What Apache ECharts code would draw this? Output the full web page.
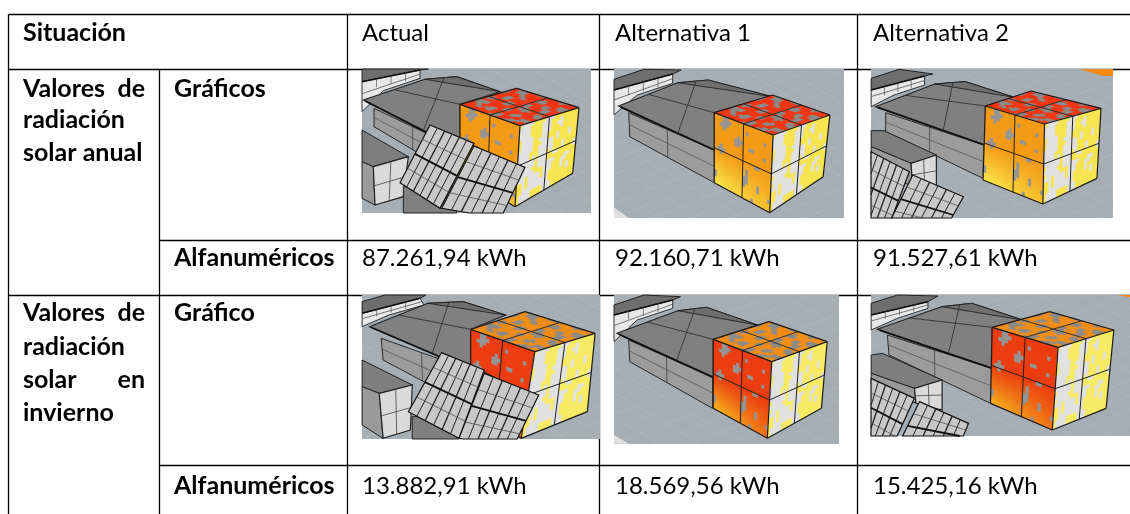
<!DOCTYPE html>
<html>
<head>
<meta charset="utf-8">
<style>html,body{margin:0;padding:0;background:#fff}#c{width:1130px;height:514px}</style>
<script src="https://cdn.jsdelivr.net/npm/echarts@6/dist/echarts.min.js"></script>
</head>
<body>
<div id="c"></div>
<script>
// ---- table content ----
const headerLabel = "Situación";
const scenarios = ["Actual", "Alternativa 1", "Alternativa 2"];
const annualHead = ["Valores de", "radiación", "solar anual"];
const winterHead = ["Valores de", "radiación", "solar en", "invierno"];
const annualRows = ["Gráficos", "Alfanuméricos"];
const winterRows = ["Gráfico", "Alfanuméricos"];
const annualKwh = ["87.261,94 kWh", "92.160,71 kWh", "91.527,61 kWh"];
const winterKwh = ["13.882,91 kWh", "18.569,56 kWh", "15.425,16 kWh"];

// ---- layout ----
const FONT = 'Lato, "Open Sans", sans-serif';
const FS = 24, FSB = 25;
const VX = [8.5, 159.5, 347.5, 599.5, 857.5];
const HY = [14.5, 69.5, 240.5, 295.5, 465.5];
const W = 1130, H = 514;
const TX = [362, 615, 873];

// ---- blotch textures for the rendered cubes ----
const patTop = [
"..##....###...##..#.",".####..##.....###...","..###......##...#..#","#...##...####....##.",
"##...##...###..#.###",".#....##.....###..##","...##..##..#..##....","..####...###....##..",
"...##.....##...####.","##....##....#...##..","###..####..###......",".##...##...####..##.",
"....#.....#..##.####",".##.##..###.......##","####.....###..##....",".##...##....####..#.",
"...#.####....##..###","..###.##..##....#.##","#..#.....####..##...","##....##..##..####.."];
const patSide = [
".....#........#.....","..#.##....#.........","..###......##....#..","...#........#...##..",
"........#.........#.",".##....###...#......","..#.....#...##...#..","......#......#..##..",
"..#..##...#.......#.",".###......##..#.....","..#...#.......##....","......##..#....#....",
"...#.......##......#","..##...#....#...#.##","......##..#.....#...",".#.......###..#.....",
"##...#.....#..##....",".....##.........#..#","...#......#..#....##","..##...#..#.##......"];
const patRight = [
"###.##..####..#.#...","####.#..###..##...#.","####..#.####.###.##.","###.##..##..#.##....",
"####.##.###...#..##.","#.###..####.##..###.","##.###.##.#.###..#..","####.#..####..#.##..",
"###.#.###.###..#...#","##.##..###.##.###.#.",".##.###.##..#.##..##","##.##.####.###...##.",
"#.###..#.##.#..###..","###.##.##.###.#.##.#",".##.###.#.##..###...","##.#.##.####.##.#.#.",
".#.####.##.#.#..###.","##.##.##.###..##.#..",".###.#.##.##.##..#.#","#.#.##..#.###.#.#..."];

const out = [];

function clipPoly(pts, r) {
  const edges = [
    p => p[0] >= r[0], p => p[0] <= r[2], p => p[1] >= r[1], p => p[1] <= r[3]
  ];
  const cross = [
    (a, b) => { const t = (r[0]-a[0])/(b[0]-a[0]); return [r[0], a[1]+t*(b[1]-a[1])]; },
    (a, b) => { const t = (r[2]-a[0])/(b[0]-a[0]); return [r[2], a[1]+t*(b[1]-a[1])]; },
    (a, b) => { const t = (r[1]-a[1])/(b[1]-a[1]); return [a[0]+t*(b[0]-a[0]), r[1]]; },
    (a, b) => { const t = (r[3]-a[1])/(b[1]-a[1]); return [a[0]+t*(b[0]-a[0]), r[3]]; }
  ];
  let res = pts;
  for (let e = 0; e < 4; e++) {
    const inp = res; res = [];
    for (let i = 0; i < inp.length; i++) {
      const a = inp[i], b = inp[(i+1) % inp.length];
      const ai = edges[e](a), bi = edges[e](b);
      if (ai) res.push(a);
      if (ai !== bi) res.push(cross[e](a, b));
    }
    if (!res.length) return res;
  }
  return res;
}
function clipSeg(a, b, r) {
  let t0 = 0, t1 = 1;
  const dx = b[0]-a[0], dy = b[1]-a[1];
  const ck = [[-dx, a[0]-r[0]], [dx, r[2]-a[0]], [-dy, a[1]-r[1]], [dy, r[3]-a[1]]];
  for (const [p, q] of ck) {
    if (p === 0) { if (q < 0) return null; continue; }
    const t = q / p;
    if (p < 0) { if (t > t1) return null; if (t > t0) t0 = t; }
    else { if (t < t0) return null; if (t < t1) t1 = t; }
  }
  return [[a[0]+t0*dx, a[1]+t0*dy], [a[0]+t1*dx, a[1]+t1*dy]];
}
function bil(q, u, v) {
  const tx = q[0][0]+(q[1][0]-q[0][0])*u, ty = q[0][1]+(q[1][1]-q[0][1])*u;
  const bx = q[3][0]+(q[2][0]-q[3][0])*u, by = q[3][1]+(q[2][1]-q[3][1])*u;
  return [tx+(bx-tx)*v, ty+(by-ty)*v];
}
function mix(c1, c2, t) {
  t = Math.max(0, Math.min(1, t));
  const r = [0,1,2].map(i => Math.round(c1[i]+(c2[i]-c1[i])*t));
  return "rgb("+r.join(",")+")";
}
const mid = (a,b,t) => [a[0]+(b[0]-a[0])*t, a[1]+(b[1]-a[1])*t];
// a texture cell is set when enough of its 3x3 neighbourhood is set: merges specks into blobs
function blotched(pat, j, i, need) {
  const n = pat.length;
  let k = 0;
  for (let b = -1; b <= 1; b++) for (let a = -1; a <= 1; a++)
    if (pat[(j+b+n)%n][(i+a+n)%n] === "#") k++;
  return k >= need;
}

function drawScene(s) {
  const r = s.rect;
  const P = p => [s.ox + p[0]/s.sx, s.oy + p[1]/s.sy];
  const poly = (pts, fill, stroke, lw) => {
    const c = clipPoly(pts.map(P), r);
    if (c.length < 3) return;
    out.push({type:"polygon", shape:{points:c}, silent:true,
      style:{fill:fill, stroke:stroke||null, lineWidth:lw||0}});
  };
  const rawPoly = (pts, fill) => {
    const c = clipPoly(pts, r);
    if (c.length < 3) return;
    out.push({type:"polygon", shape:{points:c}, silent:true, style:{fill:fill, stroke:fill, lineWidth:0.5}});
  };
  const seg = (a, b, col, lw) => {
    const c = clipSeg(P(a), P(b), r);
    if (!c) return;
    out.push({type:"line", silent:true, shape:{x1:c[0][0], y1:c[0][1], x2:c[1][0], y2:c[1][1]},
      style:{stroke:col, lineWidth:lw}});
  };

  // ground
  out.push({type:"rect", silent:true, shape:{x:r[0], y:r[1], width:r[2]-r[0], height:r[3]-r[1]}, style:{fill:"#A5ADB5"}});
  const h = r[3]-r[1];
  for (let i = -6; i < 14; i++) {
    const c = clipSeg([r[0]+i*38, r[3]], [r[0]+i*38+h*2.6, r[1]], r);
    if (c) out.push({type:"line", silent:true, shape:{x1:c[0][0],y1:c[0][1],x2:c[1][0],y2:c[1][1]}, style:{stroke:"#B2B9C0", lineWidth:0.6}});
    const f = clipSeg([r[0]+i*42-40, r[1]], [r[0]+i*42-40+h*1.7, r[3]], r);
    if (f) out.push({type:"line", silent:true, shape:{x1:f[0][0],y1:f[0][1],x2:f[1][0],y2:f[1][1]}, style:{stroke:"#B2B9C0", lineWidth:0.6}});
  }

  // far building
  poly(s.farTop, "#6E6E6E", "#222", 1);
  poly(s.far, "#E8E8E8", "#333", 1);
  const f0 = s.far;
  seg(f0[0], f0[1], "#111", 1.6);
  seg(mid(f0[0],f0[4],.4), mid(f0[1],f0[2],.5), "#555", 0.8);
  for (let t = 0.25; t < 1; t += 0.25) {
    const a = mid(f0[0], f0[1], t);
    seg(a, [a[0], a[1]+(f0[2][1]-f0[1][1])], "#555", 0.7);
  }

  // wall and roof of the long building
  poly(s.wall, "#9C9C9C", "#2a2a2a", 1);
  const wl = s.wall, wn = wl.length;
  seg(mid(wl[0],wl[1],.5), mid(wl[wn-1],wl[wn-2],.5), "#555", 0.8);
  seg(mid(wl[0],wl[wn-1],.45), mid(wl[1],wl[wn-2],.45), "#444", 0.8);
  const rf = s.roof;
  poly(rf, "#808080", "#222", 1.1);
  poly([rf[1], rf[2], rf[3], mid(rf[1], rf[3], .9)], "#6F6F6F", "#222", 0.9);
  seg(mid(rf[0],rf[5],.02), rf[5], "#111", 1.8);
  seg(mid(rf[0],rf[1],.5), rf[4], "#333", 0.9);
  seg(mid(rf[0],rf[5],.62), mid(rf[1],rf[2],.6), "#333", 0.9);

  // small box
  if (s.box) {
    poly(s.box.top, "#7E7E7E", "#222", 1);
    if (s.box.left) poly(s.box.left, "#9A9A9A", "#222", 1);
    poly(s.box.right, "#DADADA", "#222", 1.2);
    const q = s.box.right;
    seg(mid(q[0],q[1],.5), mid(q[3],q[2],.5), "#444", 0.8);
    seg(mid(q[0],q[3],.5), mid(q[1],q[2],.5), "#444", 0.8);
  }
  if (s.low) poly(s.low, "#808080", "#222", 1);

  // cube
  const c = s.cube, pal = s.pal;
  const faces = [
    {q:[c.a,c.b,c.c,c.d], pat:patTop, need:5, col:()=>pal.top, alt:"#8A8A8A"},
    {q:[c.d,c.c,c.f,c.e], pat:patSide, need:4, col:(u,v)=>{
        const t = v < 0.5 ? 0 : (v-0.5)*2*(1-u*0.55);
        return mix(pal.l1, pal.l2, t*1.1);
      }, alt:"#949494"},
    {q:[c.c,c.b,c.g,c.f], pat:patRight, need:6, col:()=>pal.yellow, alt:"#E2E2E2"}
  ];
  faces.forEach(F => {
    const q = F.q.map(P), n = F.pat.length;
    for (let j = 0; j < n; j++) for (let i = 0; i < n; i++) {
      const fill = blotched(F.pat, j, i, F.need) ? F.alt : F.col((i+.5)/n,(j+.5)/n);
      rawPoly([bil(q,i/n,j/n),bil(q,(i+1)/n,j/n),bil(q,(i+1)/n,(j+1)/n),bil(q,i/n,(j+1)/n)], fill);
    }
  });
  seg(mid(c.d,c.c,.5), mid(c.a,c.b,.5), "#333", 1);
  seg(mid(c.a,c.d,.5), mid(c.b,c.c,.5), "#333", 1);
  seg(mid(c.d,c.e,.5), mid(c.c,c.f,.5), "#222", 1);
  seg(mid(c.c,c.f,.5), mid(c.b,c.g,.5), "#222", 1);
  seg(mid(c.d,c.c,.5), mid(c.e,c.f,.5), "#222", 1);
  seg(mid(c.c,c.b,.5), mid(c.f,c.g,.5), "#222", 1);
  [[c.a,c.b],[c.b,c.c],[c.c,c.d],[c.d,c.a],[c.d,c.e],[c.e,c.f],[c.f,c.g],[c.g,c.b],[c.c,c.f]].forEach(e => seg(e[0],e[1],"#1a1a1a",1.2));

  // solar panels
  (s.panels||[]).forEach(q => {
    poly(q, "#C8C8C8", "#111", 1.2);
    for (let i = 1; i < 6; i++) seg(bil(q,i/6,0), bil(q,i/6,1), "#222", i%2?1:1.3);
    seg(bil(q,0,.25), bil(q,1,.25), "#444", .7);
    seg(bil(q,0,.5), bil(q,1,.5), "#111", 1.8);
    seg(bil(q,0,.75), bil(q,1,.75), "#444", .7);
  });
  (s.extra||[]).forEach(e => poly(e.p, e.fill));
}

const ANN = {top:"#F2330F", l1:[246,154,18], l2:[252,226,70], yellow:"#F9E64F"};
const WIN = {top:"#F28C12", l1:[238,58,12], l2:[246,170,24], yellow:"#F9EC62"};

const scenes = [
 {rect:[362,69,591,213], ox:350, oy:60, sx:3, sy:3, pal:ANN,
  far:[[36,65],[210,30],[210,55],[100,92],[36,155]], farTop:[[36,27],[235,27],[210,30],[36,65]],
  roof:[[40,120],[225,58],[320,50],[450,95],[330,133],[330,268]],
  wall:[[72,145],[72,200],[190,270],[330,350],[330,268]],
  box:{top:[[36,210],[175,290],[70,320],[36,305]], left:[[36,305],[70,320],[75,435],[36,415]], right:[[70,320],[175,290],[160,410],[75,435]]},
  low:[[160,380],[320,380],[320,470],[160,470]],
  cube:{a:[500,85],b:[687,143],c:[510,197],d:[330,133],e:[330,340],f:[495,440],g:[668,340]},
  panels:[[[240,195],[372,250],[270,445],[150,368]],[[372,258],[525,322],[452,475],[275,445]]]},
 {rect:[614,69,844,218], ox:600, oy:0, sx:2.958, sy:3, pal:ANN,
  far:[[41,270],[215,222],[215,250],[110,285],[41,345]], farTop:[[41,238],[130,208],[240,210],[215,222],[41,270]],
  roof:[[55,318],[230,248],[320,240],[510,290],[338,338],[338,450]],
  wall:[[85,338],[88,410],[338,548],[338,450]],
  cube:{a:[510,285],b:[680,345],c:[512,405],d:[338,338],e:[338,548],f:[502,638],g:[660,530]},
  extra:[{p:[[41,622],[85,654],[41,654]], fill:"#E0E0E0"}]},
 {rect:[871,69,1113,218], ox:600, oy:0, sx:2.958, sy:3, pal:ANN,
  far:[[802,270],[960,228],[960,255],[870,285],[802,320]], farTop:[[802,235],[885,208],[985,222],[960,228],[802,270]],
  roof:[[815,320],[990,252],[1080,245],[1225,292],[1140,318],[1138,435]],
  wall:[[845,338],[845,395],[1133,535],[1135,435]],
  box:{top:[[802,392],[840,392],[995,465],[920,490],[802,440]], left:[[802,440],[920,490],[925,560],[802,500]], right:[[920,490],[995,465],[995,560],[925,560]]},
  cube:{a:[1275,273],b:[1482,325],c:[1315,372],d:[1140,318],e:[1133,540],f:[1310,612],g:[1470,535]},
  panels:[[[802,455],[915,515],[850,690],[740,640]],[[925,525],[1075,590],[1015,700],[855,670]]],
  extra:[{p:[[1420,208],[1518,208],[1518,228],[1490,228]], fill:"#F58A0C"}]},
 {rect:[362,295,600,439], ox:0, oy:270, sx:2.571, sy:3, pal:WIN,
  far:[[931,130],[1080,85],[1090,105],[1000,135],[931,170]], farTop:[[931,95],[990,75],[1095,75],[1080,85],[931,130]],
  roof:[[950,170],[1100,100],[1190,95],[1300,135],[1210,178],[1210,300]],
  wall:[[980,205],[985,270],[1210,410],[1210,300]],
  box:{top:[[931,270],[1060,345],[975,370],[931,350]], left:[[931,350],[975,370],[985,505],[931,465]], right:[[975,370],[1060,345],[1055,480],[985,505]]},
  low:[[1060,440],[1180,440],[1180,520],[1060,520]],
  cube:{a:[1350,125],b:[1530,190],c:[1375,245],d:[1210,178],e:[1210,390],f:[1340,505],g:[1510,425]},
  panels:[[[1135,248],[1245,300],[1180,505],[1050,425]],[[1245,310],[1385,375],[1320,530],[1180,505]]]},
 {rect:[614,295,839,444], ox:600, oy:270, sx:2.958, sy:3, pal:WIN,
  far:[[41,135],[215,90],[215,115],[110,150],[41,215]], farTop:[[41,105],[130,75],[238,80],[215,90],[41,135]],
  roof:[[50,190],[230,122],[315,112],[465,165],[335,208],[335,322]],
  wall:[[85,210],[88,275],[333,415],[333,322]],
  cube:{a:[500,155],b:[672,215],c:[508,275],d:[335,208],e:[335,415],f:[495,505],g:[655,415]},
  extra:[{p:[[41,495],[85,521],[41,521]], fill:"#E0E0E0"}]},
 {rect:[871,295,1130,436], ox:600, oy:270, sx:2.958, sy:3, pal:WIN,
  far:[[802,135],[970,95],[970,115],[880,145],[802,180]], farTop:[[802,100],[880,75],[1000,78],[970,95],[802,135]],
  roof:[[820,178],[1010,110],[1100,100],[1250,150],[1160,172],[1160,295]],
  wall:[[850,195],[855,255],[1155,400],[1160,295]],
  box:{top:[[802,255],[835,250],[1012,330],[930,355],[802,310]], left:[[802,310],[930,355],[935,400],[802,340]], right:[[930,355],[1012,330],[1012,420],[935,400]]},
  cube:{a:[1330,125],b:[1520,180],c:[1355,232],d:[1160,172],e:[1155,400],f:[1338,480],g:[1497,415]},
  panels:[[[802,325],[930,385],[860,540],[760,480]],[[945,395],[1090,460],[1058,540],[875,540]]],
  extra:[{p:[[1530,75],[1568,75],[1568,82]], fill:"#F58A0C"}]}
];

// ---- table rules ----
function rule(x1, y1, x2, y2) {
  out.push({type:"line", silent:true, shape:{x1,y1,x2,y2}, style:{stroke:"#000", lineWidth:1.3}});
}
rule(VX[0], HY[0], W, HY[0]);
rule(VX[0], HY[1], W, HY[1]);
rule(VX[1], HY[2], W, HY[2]);
rule(VX[0], HY[3], W, HY[3]);
rule(VX[1], HY[4], W, HY[4]);
rule(VX[0], HY[0], VX[0], H);
rule(VX[1], HY[1], VX[1], H);
rule(VX[2], HY[0], VX[2], H);
rule(VX[3], HY[0], VX[3], H);
rule(VX[4], HY[0], VX[4], H);

scenes.forEach(drawScene);

// ---- text ----
function txt(t, x, y, bold, align) {
  out.push({type:"text", silent:true, style:{text:t, x:x, y:y, fill:"#000", textAlign:align||"left", textVerticalAlign:"middle",
    font:(bold?"bold "+FSB:FS)+"px "+FONT}});
}
txt(headerLabel, 23, 33, true);
scenarios.forEach((s, i) => txt(s, TX[i], 33, false));
// justified first-column lines
function headLine(line, y) {
  const parts = line.split(" ");
  if (parts.length === 2 && line !== "solar anual") {
    txt(parts[0], 23, y, true);
    txt(parts[1], 145, y, true, "right");
  } else txt(line, 23, y, true);
}
[89, 120, 153].forEach((y, i) => headLine(annualHead[i], y));
[313, 347, 380, 413].forEach((y, i) => headLine(winterHead[i], y));
txt(annualRows[0], 174, 89, true);
txt(annualRows[1], 174, 258, true);
txt(winterRows[0], 174, 313, true);
txt(winterRows[1], 174, 486, true);
annualKwh.forEach((s, i) => txt(s, TX[i], 258, false));
winterKwh.forEach((s, i) => txt(s, TX[i], 486, false));

const chart = echarts.init(document.getElementById("c"), null, {renderer:"canvas"});
chart.setOption({backgroundColor:"#fff", animation:false, graphic:{elements:out}});
</script>
</body>
</html>
